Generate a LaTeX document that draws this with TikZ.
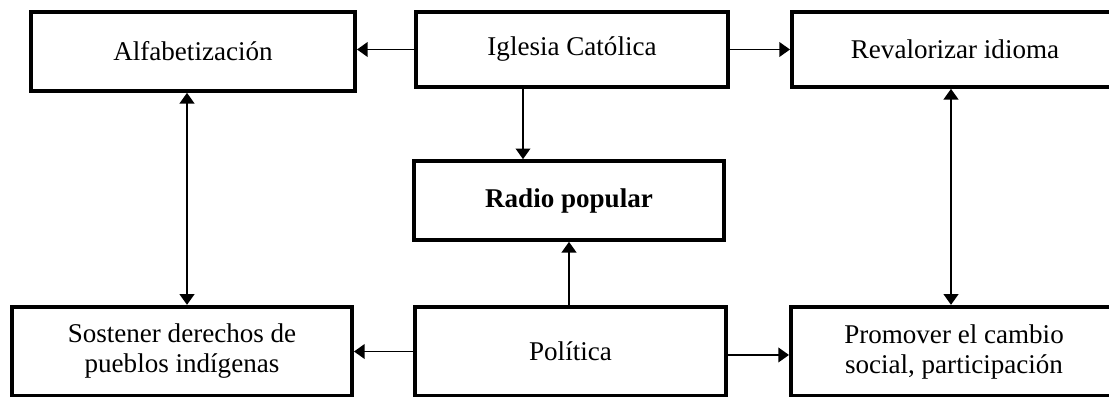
\documentclass[tikz,border=0pt]{standalone}
\usepackage{fontspec}
\setmainfont{Liberation Serif}
\usetikzlibrary{arrows.meta, positioning}

\begin{document}
\begin{tikzpicture}[
  x=0.75pt, y=-0.75pt,
  cbox/.style={rectangle, draw=black, line width=3pt, align=center, inner sep=0pt, font=\fontsize{20.3}{22.5}\selectfont},
  arrow/.style={-{Triangle[length=8pt, width=11pt]}, line width=1.3pt, color=black},
  darrow/.style={{Triangle[length=8pt, width=11pt]}-{Triangle[length=8pt, width=11pt]}, line width=1.3pt, color=black}
]
  \path[use as bounding box, clip] (0,0) rectangle (1109,396);

  \node[cbox, minimum width=243pt, minimum height=59pt] (alf) at (193,51.5) {Alfabetizaci\'on};
  \node[cbox, minimum width=234pt, minimum height=56pt] (igl) at (572,49.5) {Iglesia Cat\'olica};
  \node[cbox, minimum width=244.5pt, minimum height=56pt] (rev) at (955,49.5) {Revalorizar idioma};
  \node[cbox, minimum width=232.5pt, minimum height=59pt] (radio) at (569,200.5) {\textbf{Radio popular}};
  \node[cbox, minimum width=255pt, minimum height=67pt] (sos) at (182,351.5) {Sostener derechos de\\pueblos ind\'igenas};
  \node[cbox, minimum width=233pt, minimum height=67pt] (pol) at (570.5,351.5) {Pol\'itica};
  \node[cbox, minimum width=244.5pt, minimum height=67pt] (pro) at (954,351.5) {Promover el cambio\\social, participaci\'on};

  \draw[arrow] (igl.west) -- (igl.west -| alf.east);
  \draw[arrow] (igl.east) -- (igl.east -| rev.west);
  \draw[arrow] ([xshift=-36.75pt]igl.south) -- ([xshift=-34.5pt]radio.north);
  \draw[darrow] ([xshift=-4.5pt]alf.south) -- ([xshift=3.75pt]sos.north);
  \draw[darrow] ([xshift=-3pt]rev.south) -- ([xshift=-2.25pt]pro.north);
  \draw[arrow] (radio.south |- pol.north) -- (radio.south);
  \draw[arrow] (pol.west) -- (pol.west -| sos.east);
  \draw[arrow] ([yshift=-2.6pt]pol.east) -- ([yshift=-2.6pt]pro.west);

\end{tikzpicture}
\end{document}
